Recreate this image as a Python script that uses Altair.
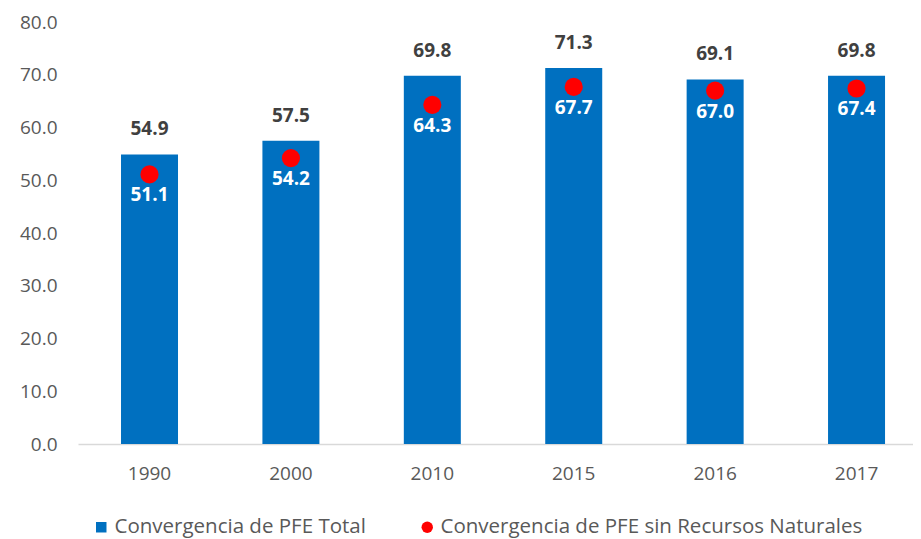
import altair as alt
import pandas as pd

years = ["1990", "2000", "2010", "2015", "2016", "2017"]
total = [54.9, 57.5, 69.8, 71.3, 69.1, 69.8]
sin_rn = [51.1, 54.2, 64.3, 67.7, 67.0, 67.4]
series_total = "Convergencia de PFE Total"
series_sin = "Convergencia de PFE sin Recursos Naturales"

df_total = pd.DataFrame({"year": years, "value": total, "series": series_total})
df_sin = pd.DataFrame({"year": years, "value": sin_rn, "series": series_sin})

FONT = "Open Sans"
xenc = alt.X("year:N", sort=years, title=None,
             scale=alt.Scale(paddingInner=0.597, paddingOuter=0.251, align=0.606),
             axis=alt.Axis(labelAngle=0, ticks=False, domainColor="#d9d9d9", domainWidth=1.5,
                           labelPadding=20, labelFontSize=19, labelColor="#595959", labelFont=FONT))
yenc = alt.Y("value:Q", title=None, scale=alt.Scale(domain=[0, 80], nice=False),
             axis=alt.Axis(values=[0, 10, 20, 30, 40, 50, 60, 70, 80], format=".1f", grid=False,
                           domain=False, ticks=False, labelPadding=21, labelFontSize=19,
                           labelColor="#595959", labelFont=FONT))

bars = alt.Chart(df_total).mark_bar(size=57).encode(
    x=xenc, y=yenc,
    color=alt.Color("series:N", scale=alt.Scale(domain=[series_total], range=["#0070C0"]),
                    legend=alt.Legend(title=None, orient="none", legendX=13, legendY=495,
                                      symbolType="square", symbolSize=110, labelFontSize=20.5,
                                      labelLimit=0, labelFont=FONT, labelColor="#595959",
                                      labelOffset=3))
)

bar_labels = alt.Chart(df_total).mark_text(dy=-25, fontSize=19, fontWeight="bold", color="#404040",
                                           font=FONT, baseline="middle").encode(
    x=xenc, y=yenc, text=alt.Text("value:Q", format=".1f"))

points = alt.Chart(df_sin).mark_point(filled=True, size=330, opacity=1).encode(
    x=xenc, y=yenc,
    fill=alt.Fill("series:N", scale=alt.Scale(domain=[series_sin], range=["#FF0000"]),
                  legend=alt.Legend(title=None, orient="none", legendX=339, legendY=495,
                                    symbolType="circle", symbolSize=130, labelFontSize=20.5,
                                    labelLimit=0, labelFont=FONT, labelColor="#595959",
                                    labelOffset=3))
)

point_labels = alt.Chart(df_sin).mark_text(dy=21, fontSize=19, fontWeight="bold", color="white",
                                           font=FONT, baseline="middle").encode(
    x=xenc, y=yenc, text=alt.Text("value:Q", format=".1f"))

chart = alt.layer(bars, bar_labels, points, point_labels).resolve_scale(
    color="independent", fill="independent"
).properties(
    width=835, height=422,
    autosize=alt.AutoSizeParams(type="none"),
    padding={"left": 70, "top": 14, "right": 0, "bottom": 95},
).configure_view(stroke=None)

chart.save("out.html", embed_options={"renderer": "svg", "actions": False})
